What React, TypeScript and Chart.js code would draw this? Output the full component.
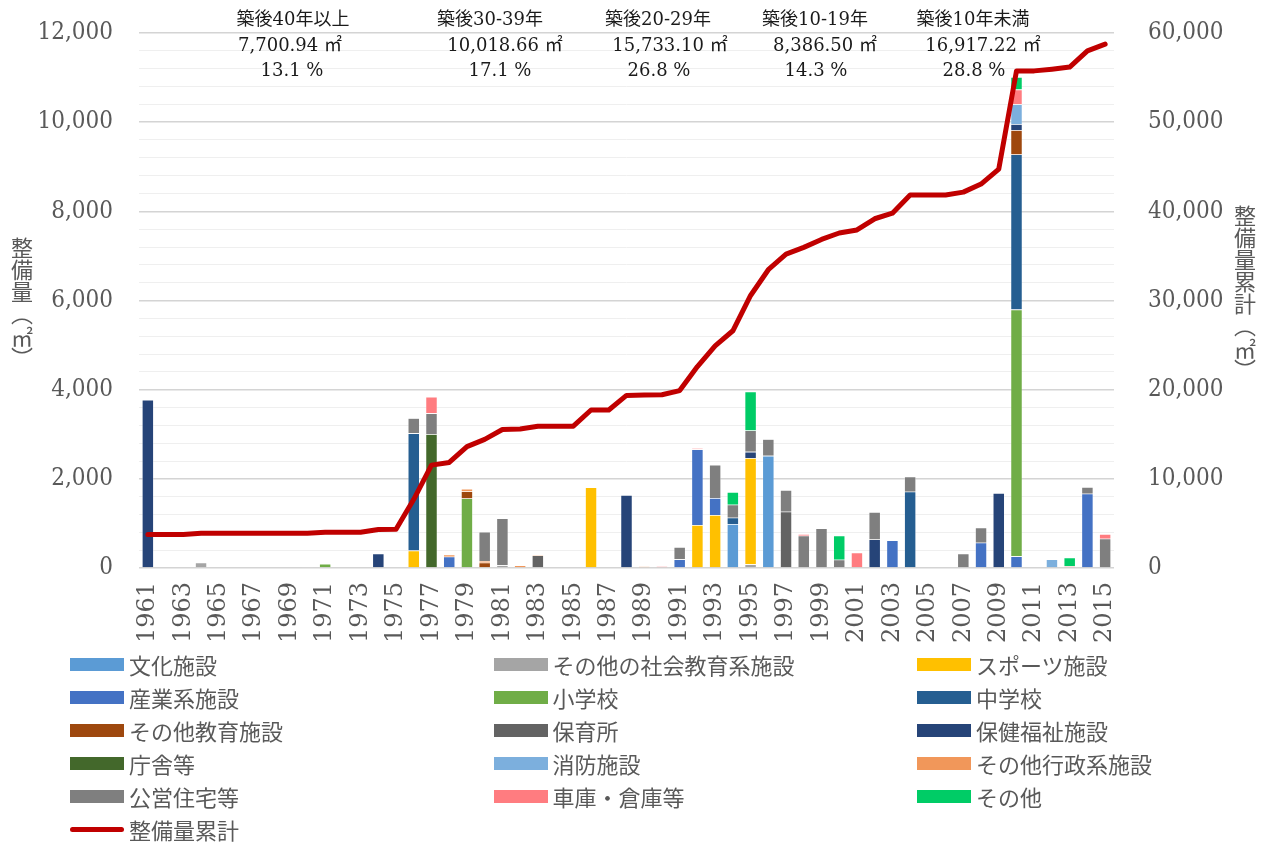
import React, { useEffect, useRef } from 'react';
import { Chart, registerables } from 'chart.js';

Chart.register(...registerables);

// ---- Data ---------------------------------------------------------------

const FIRST_YEAR = 1961;
const LAST_YEAR = 2015;
const years: string[] = [];
for (let y = FIRST_YEAR; y <= LAST_YEAR; y++) years.push(String(y));

type YearValue = [number, number];

// Floor area built per year (m²) by facility type: [year, value]
const bunka: YearValue[] = [[1994, 986], [1996, 2516]];
const shakaiKyoiku: YearValue[] = [[1964, 120], [1981, 60], [1995, 82]];
const sports: YearValue[] = [[1976, 390], [1986, 1810], [1992, 963], [1993, 1187], [1995, 2382]];
const sangyo: YearValue[] = [[1978, 253], [1991, 195], [1992, 1698], [1993, 381], [2003, 620], [2008, 567], [2010, 262], [2014, 1665]];
const shogakko: YearValue[] = [[1971, 90], [1979, 1560], [2010, 5534]];
const chugakko: YearValue[] = [[1976, 2630], [1994, 141], [2004, 1710], [2010, 3479]];
const sonotaKyoiku: YearValue[] = [[1979, 157], [1980, 120], [2010, 546]];
const hoikusho: YearValue[] = [[1983, 280], [1997, 1262]];
const hokenFukushi: YearValue[] = [[1961, 3770], [1974, 320], [1988, 1635], [1995, 141], [2002, 642], [2009, 1680], [2010, 134]];
const chosha: YearValue[] = [[1977, 3000]];
const shobo: YearValue[] = [[2010, 445], [2012, 195]];
const sonotaGyosei: YearValue[] = [[1970, 20], [1975, 20], [1978, 45], [1979, 60], [1980, 37], [1982, 60], [1983, 20], [1985, 15], [1989, 35]];
const koeiJutaku: YearValue[] = [[1976, 341], [1977, 470], [1980, 650], [1981, 1053], [1991, 275], [1993, 746], [1994, 292], [1995, 480], [1996, 374], [1997, 485], [1998, 724], [1999, 886], [2000, 186], [2002, 612], [2004, 340], [2007, 320], [2008, 336], [2014, 150], [2015, 657]];
const shako: YearValue[] = [[1977, 367], [1990, 40], [1992, 30], [1998, 38], [2001, 343], [2010, 331], [2013, 40], [2015, 105]];
const sonota: YearValue[] = [[1994, 284], [1995, 870], [2000, 538], [2010, 280], [2013, 191]];

const seriesNames = [
  '文化施設', 'その他の社会教育系施設', 'スポーツ施設',
  '産業系施設', '小学校', '中学校',
  'その他教育施設', '保育所', '保健福祉施設',
  '庁舎等', '消防施設', 'その他行政系施設',
  '公営住宅等', '車庫・倉庫等', 'その他',
];
const seriesValues: YearValue[][] = [
  bunka, shakaiKyoiku, sports,
  sangyo, shogakko, chugakko,
  sonotaKyoiku, hoikusho, hokenFukushi,
  chosha, shobo, sonotaGyosei,
  koeiJutaku, shako, sonota,
];
const seriesColors = [
  '#5B9BD5', '#A5A5A5', '#FFC000',
  '#4472C4', '#70AD47', '#255E91',
  '#9E480E', '#636363', '#264478',
  '#43682B', '#7CAFDD', '#F1975A',
  '#7F7F7F', '#FF7C80', '#00CC66',
];
const cumulativeName = '整備量累計';

// Period summary labels printed above the plot
const periodTitles = ['築後40年以上', '築後30-39年', '築後20-29年', '築後10-19年', '築後10年未満'];
const periodAreas = ['7,700.94 ㎡', '10,018.66 ㎡', '15,733.10 ㎡', '8,386.50 ㎡', '16,917.22 ㎡'];
const periodShares = ['13.1 %', '17.1 %', '26.8 %', '14.3 %', '28.8 %'];

// ---- Helpers ------------------------------------------------------------

function expand(pairs: YearValue[]): number[] {
  const out = years.map(() => 0);
  pairs.forEach(([y, v]) => {
    out[y - FIRST_YEAR] = v;
  });
  return out;
}

const barData = seriesValues.map(expand);
const yearTotals = years.map((_, i) => barData.reduce((s, arr) => s + arr[i], 0));
const cumulative: number[] = [];
yearTotals.reduce((acc, v) => {
  const next = acc + v;
  cumulative.push(next);
  return next;
}, 0);

const TEXT_GRAY = '#595959';
const Y_FONT = "'DejaVu Serif Condensed', 'DejaVu Serif', serif";
const X_FONT = "'DejaVu Serif', serif";
const JP_FONT = "'Noto Sans CJK JP', 'Noto Sans', sans-serif";

// Layout of the summary text block
const titleX = [293, 490, 658, 815, 973];
const areaX = [290, 505, 670, 825, 983];
const shareX = [292, 500, 659, 816, 974];

const summaryPlugin = {
  id: 'periodSummary',
  afterDraw(chart: Chart) {
    const ctx = chart.ctx;
    ctx.save();
    ctx.fillStyle = '#1a1a1a';
    ctx.textAlign = 'center';
    ctx.textBaseline = 'middle';
    ctx.font = `18px 'DejaVu Serif', 'Noto Sans CJK JP', serif`;
    periodTitles.forEach((t, i) => ctx.fillText(t, titleX[i], 20));
    periodAreas.forEach((t, i) => ctx.fillText(t, areaX[i], 46));
    periodShares.forEach((t, i) => ctx.fillText(t, shareX[i], 71));
    ctx.restore();
  },
};

// Vertical axes: fixed width, and no extra label padding so the plot spans the padding box
function fixVertical(width: number) {
  return (s: any) => {
    s.width = width;
    s.paddingTop = 0;
    s.paddingBottom = 0;
  };
}

export default function App() {
  const canvasRef = useRef<HTMLCanvasElement | null>(null);

  useEffect(() => {
    const canvas = canvasRef.current;
    if (!canvas) return;

    const datasets: any[] = seriesNames.map((name, k) => ({
      type: 'bar',
      label: name,
      data: barData[k],
      backgroundColor: seriesColors[k],
      borderColor: 'rgba(255,255,255,0.55)',
      borderWidth: 0.6,
      yAxisID: 'y',
      stack: 'area',
      order: 1,
      barPercentage: 0.66,
      categoryPercentage: 1,
    }));
    datasets.push({
      type: 'line',
      label: cumulativeName,
      data: cumulative,
      borderColor: '#C00000',
      borderWidth: 5,
      pointRadius: 0,
      tension: 0,
      borderJoinStyle: 'round',
      borderCapStyle: 'round',
      yAxisID: 'y1',
      order: 0,
    });

    const chart = new Chart(canvas, {
      type: 'bar',
      data: { labels: years, datasets },
      options: {
        animation: false,
        responsive: false,
        devicePixelRatio: 1,
        layout: { padding: { top: 33, left: 0, right: 0, bottom: 842 - 568 - 82 } },
        plugins: {
          legend: { display: false },
          tooltip: { enabled: false },
        },
        scales: {
          x: {
            stacked: true,
            grid: { display: false },
            border: { display: false },
            ticks: {
              autoSkip: false,
              minRotation: 90,
              maxRotation: 90,
              padding: 6,
              color: TEXT_GRAY,
              font: { family: X_FONT, size: 24 },
              callback: (_v: any, i: number) => (i % 2 === 0 ? years[i] : ''),
            },
            afterFit: (s: any) => {
              s.height = 82;
            },
          },
          y: {
            stacked: true,
            position: 'left',
            min: 0,
            max: 12000,
            border: { display: false },
            grid: {
              drawTicks: false,
              color: (c: any) => (c.tick && c.tick.value % 2000 === 0 ? '#D4D4D4' : '#EFEFEF'),
              lineWidth: (c: any) => (c.tick && c.tick.value % 2000 === 0 ? 1.5 : 1),
            },
            ticks: {
              stepSize: 400,
              autoSkip: false,
              padding: 26,
              color: TEXT_GRAY,
              font: { family: Y_FONT, size: 24 },
              callback: (v: any) => (Number(v) % 2000 === 0 ? Number(v).toLocaleString('en-US') : ''),
            },
            afterFit: fixVertical(139),
          },
          y1: {
            position: 'right',
            min: 0,
            max: 60000,
            border: { display: false },
            grid: { display: false },
            ticks: {
              stepSize: 10000,
              autoSkip: false,
              padding: 26,
              color: TEXT_GRAY,
              font: { family: Y_FONT, size: 24 },
              callback: (v: any) => Number(v).toLocaleString('en-US'),
            },
            afterFit: fixVertical(154),
          },
        },
      } as any,
      plugins: [summaryPlugin],
    });

    return () => chart.destroy();
  }, []);

  const legendItems = [
    ...seriesNames.map((n, k) => ({ name: n, color: seriesColors[k], line: false })),
    { name: cumulativeName, color: '#C00000', line: true },
  ];

  const verticalTitle: React.CSSProperties = {
    position: 'absolute',
    writingMode: 'vertical-rl',
    fontFamily: JP_FONT,
    fontSize: 22,
    lineHeight: '22px',
    color: TEXT_GRAY,
    whiteSpace: 'nowrap',
  };

  return (
    <div style={{ position: 'fixed', left: 0, top: 0, width: 1268, height: 842, background: '#fff', overflow: 'hidden' }}>
      <canvas ref={canvasRef} width={1268} height={842} style={{ position: 'absolute', left: 0, top: 0 }} />
      <div style={{ ...verticalTitle, left: 11, top: 237 }}>整備量（㎡）</div>
      <div style={{ ...verticalTitle, left: 1234, top: 205 }}>整備量累計（㎡）</div>
      <div
        style={{
          position: 'absolute',
          left: 70,
          top: 648,
          display: 'grid',
          gridTemplateColumns: '423.5px 423.5px 423.5px',
          gridAutoRows: '33px',
        }}
      >
        {legendItems.map((it) => (
          <div key={it.name} style={{ display: 'flex', alignItems: 'center' }}>
            {it.line ? (
              <span style={{ display: 'inline-block', width: 54, height: 5, borderRadius: 3, background: it.color }} />
            ) : (
              <span style={{ display: 'inline-block', width: 54, height: 13, background: it.color }} />
            )}
            <span style={{ marginLeft: 5, fontFamily: JP_FONT, fontSize: 22, color: TEXT_GRAY, lineHeight: '33px' }}>
              {it.name}
            </span>
          </div>
        ))}
      </div>
    </div>
  );
}
